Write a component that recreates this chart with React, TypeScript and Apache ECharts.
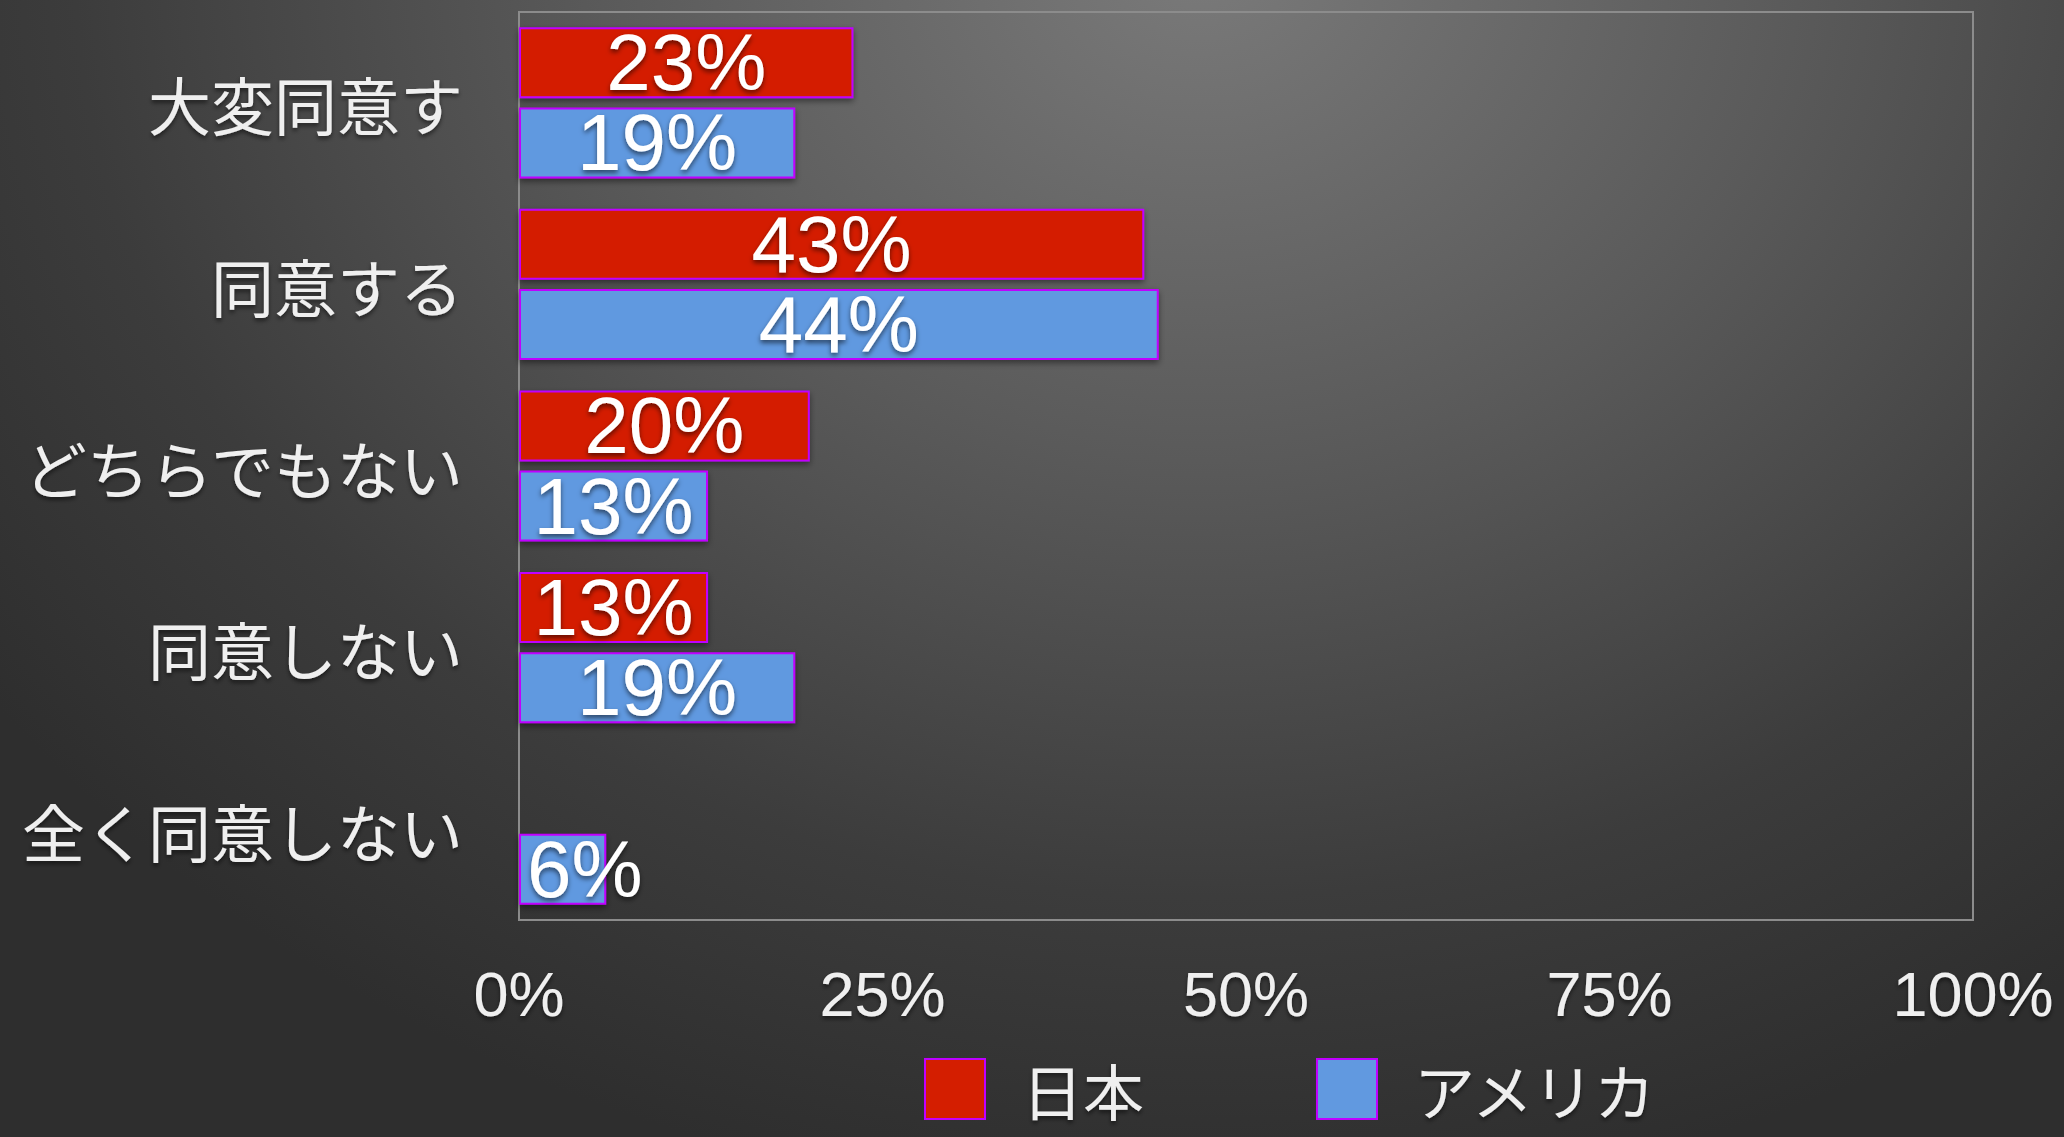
import React, { useEffect, useRef } from "react";
import * as echarts from "echarts";

const categories = ["大変同意す", "同意する", "どちらでもない", "同意しない", "全く同意しない"];
const japanValues: (number | null)[] = [23, 43, 20, 13, null];
const usaValues: number[] = [19, 44, 13, 19, 6];
const xTicks = [0, 25, 50, 75, 100];
const seriesNames = ["日本", "アメリカ"];

const FONT = "'Liberation Sans', Arial, 'Noto Sans CJK JP', sans-serif";
const CJK = "'Noto Sans CJK JP', 'Liberation Sans', sans-serif";

export default function App() {
  const ref = useRef<HTMLDivElement>(null);
  useEffect(() => {
    if (!ref.current) return;
    const chart = echarts.init(ref.current, null, { renderer: "svg" });
    const labelStyle = {
      show: true,
      position: "inside",
      color: "#ffffff",
      fontSize: 80,
      fontFamily: FONT,
      textShadowColor: "rgba(0,0,0,0.55)",
      textShadowBlur: 5,
      textShadowOffsetY: 3,
      formatter: (p: any) => p.value + "%",
    };
    const itemBase = {
      borderColor: "#c000ff",
      borderWidth: 2,
      shadowColor: "rgba(0,0,0,0.45)",
      shadowBlur: 6,
      shadowOffsetY: 3,
    };
    chart.setOption({
      animation: false,
      backgroundColor: "transparent",
      grid: {
        left: 519,
        top: 12,
        right: 91,
        bottom: 217,
        show: true,
        borderColor: "#8c8c8c",
        borderWidth: 2,
        backgroundColor: "transparent",
      },
      legend: {
        top: 1058,
        left: 924,
        itemWidth: 60,
        itemHeight: 60,
        itemGap: 172,
        padding: 0,
        textStyle: {
          color: "#efefef",
          fontSize: 61,
          lineHeight: 60,
          fontFamily: CJK,
          padding: [0, 0, 0, 32],
          textShadowColor: "rgba(0,0,0,0.5)",
          textShadowBlur: 4,
          textShadowOffsetY: 3,
        },
        data: seriesNames.map((n) => ({ name: n, icon: "rect" })),
      },
      xAxis: {
        type: "value",
        min: 0,
        max: 100,
        interval: 25,
        splitLine: { show: false },
        axisLine: { show: false },
        axisTick: { show: false },
        axisLabel: {
          color: "#efefef",
          fontSize: 63,
          fontFamily: FONT,
          margin: 42,
          textShadowColor: "rgba(0,0,0,0.5)",
          textShadowBlur: 4,
          textShadowOffsetY: 3,
          formatter: (v: number) => (xTicks.includes(v) ? v + "%" : ""),
        },
      },
      yAxis: {
        type: "category",
        data: categories,
        inverse: true,
        axisLine: { show: false },
        axisTick: { show: false },
        axisLabel: {
          color: "#efefef",
          fontSize: 63,
          fontFamily: CJK,
          margin: 56,
          textShadowColor: "rgba(0,0,0,0.5)",
          textShadowBlur: 4,
          textShadowOffsetY: 3,
        },
      },
      series: [
        {
          name: seriesNames[0],
          type: "bar",
          data: japanValues,
          barWidth: 71,
          barGap: "13%",
          itemStyle: { ...itemBase, color: "#d41e00" },
          label: labelStyle,
        },
        {
          name: seriesNames[1],
          type: "bar",
          data: usaValues.map((v) =>
            v < 10 ? { value: v, label: { position: "insideLeft", distance: 8 } } : v
          ),
          barWidth: 71,
          itemStyle: { ...itemBase, color: "#6199e0" },
          label: labelStyle,
        },
      ],
    });
    return () => chart.dispose();
  }, []);
  return (
    <div
      style={{
        position: "fixed",
        left: 0,
        top: 0,
        width: 2064,
        height: 1137,
        background:
          "radial-gradient(ellipse 1500px 1250px at 1200px -40px, #7a7a7a 0%, #5a5a5a 40%, #3c3c3c 75%, #2e2e2e 100%)",
      }}
    >
      <div ref={ref} style={{ width: 2064, height: 1137 }} />
    </div>
  );
}
